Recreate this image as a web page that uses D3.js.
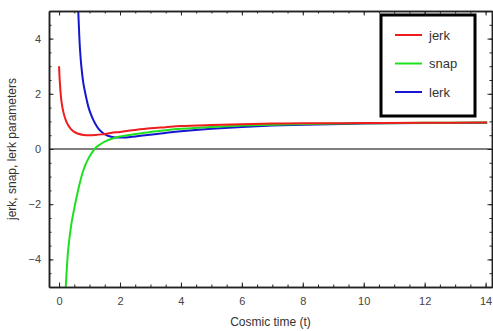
<!DOCTYPE html>
<html>
<head>
<meta charset="utf-8">
<script src="https://cdn.jsdelivr.net/npm/d3@7"></script>
<style>
  body { margin: 0; background: #fff; }
  svg { display: block; font-family: "Liberation Sans", Arial, sans-serif; }
</style>
</head>
<body>
<svg width="493" height="331"></svg>
<script>
// jerk parameter j(t)
const jerkT = [0, 0.03, 0.08, 0.15, 0.22, 0.3, 0.4, 0.5, 0.63, 0.8, 1.0, 1.2, 1.4, 1.7, 2.0, 2.5, 3.0, 3.5, 4, 5, 6, 7, 8, 10, 12, 14.05];
const jerkV = [3.0, 2.35, 1.72, 1.3, 1.05, 0.86, 0.71, 0.62, 0.55, 0.51, 0.5, 0.51, 0.53, 0.58, 0.62, 0.69, 0.75, 0.79, 0.83, 0.87, 0.9, 0.92, 0.93, 0.94, 0.95, 0.96];

// snap parameter s(t)
const snapT = [0.22, 0.26, 0.3, 0.41, 0.5, 0.58, 0.7, 0.8, 0.96, 1.1, 1.18, 1.3, 1.5, 1.73, 2.0, 2.5, 3.0, 3.5, 4, 5, 6, 7, 8, 10, 12, 14.05];
const snapV = [-5.0, -4.24, -3.64, -2.68, -2.15, -1.72, -1.15, -0.76, -0.35, -0.1, 0.02, 0.13, 0.27, 0.37, 0.45, 0.54, 0.62, 0.68, 0.73, 0.8, 0.85, 0.88, 0.91, 0.93, 0.95, 0.96];

// lerk parameter l(t)
const lerkT = [0.6, 0.63, 0.66, 0.69, 0.74, 0.8, 0.88, 0.97, 1.07, 1.18, 1.29, 1.45, 1.6, 1.84, 2.05, 2.28, 2.83, 3.48, 4, 5, 6, 7, 8, 10, 12, 14.05];
const lerkV = [5.7, 5.0, 4.2, 3.57, 2.9, 2.37, 1.92, 1.5, 1.19, 0.93, 0.74, 0.57, 0.48, 0.42, 0.42, 0.43, 0.5, 0.58, 0.64, 0.73, 0.8, 0.85, 0.88, 0.92, 0.94, 0.95];

const seriesNames = ["jerk", "snap", "lerk"];
const seriesColors = ["#ee1c1c", "#1ee01e", "#1616d0"];

const xTicks = [0, 2, 4, 6, 8, 10, 12, 14];
const yTicks = [-4, -2, 0, 2, 4];

const plotL = 49, plotR = 492, plotT = 11, plotB = 287;

const x = d3.scaleLinear().domain([-0.33, 14.21]).range([plotL, plotR]);
const y = d3.scaleLinear().domain([-5, 5]).range([plotB, plotT]);

const svg = d3.select("svg");

svg.append("clipPath").attr("id", "plot")
  .append("rect")
  .attr("x", plotL).attr("y", plotT)
  .attr("width", plotR - plotL).attr("height", plotB - plotT);

// zero line
svg.append("line")
  .attr("x1", plotL).attr("x2", plotR)
  .attr("y1", y(0)).attr("y2", y(0))
  .attr("stroke", "#555").attr("stroke-width", 1.6);

const series = [
  { t: jerkT, v: jerkV },
  { t: snapT, v: snapV },
  { t: lerkT, v: lerkV }
];

const line = d3.line()
  .x(d => x(d[0]))
  .y(d => y(d[1]))
  .curve(d3.curveCatmullRom.alpha(0.5));

const curves = svg.append("g").attr("clip-path", "url(#plot)");
// draw lerk first, then snap, then jerk on top
[2, 1, 0].forEach(i => {
  const s = series[i];
  curves.append("path")
    .datum(d3.zip(s.t, s.v))
    .attr("fill", "none")
    .attr("stroke", seriesColors[i])
    .attr("stroke-width", 2)
    .attr("d", line);
});

// axes with inward ticks
function styleAxis(g) {
  g.select(".domain").attr("stroke", "#222").attr("stroke-width", 1.5);
  g.selectAll(".tick line").attr("stroke", "#222").attr("stroke-width", 1);
  g.selectAll(".tick text").attr("fill", "#444").attr("font-size", 11);
}

const xMinor = d3.range(0, 14.01, 0.5);
const yMinor = d3.range(-4.5, 4.51, 0.5);

svg.append("g").attr("transform", `translate(0,${plotB})`)
  .call(d3.axisBottom(x).tickValues(xMinor).tickSize(-2.5).tickFormat("").tickSizeOuter(0))
  .call(styleAxis);
svg.append("g").attr("transform", `translate(0,${plotB})`)
  .call(d3.axisBottom(x).tickValues(xTicks).tickSize(-4.5).tickPadding(8).tickSizeOuter(0))
  .call(styleAxis)
  .call(g => g.selectAll(".tick text").attr("dy", "0.9em"));

svg.append("g").attr("transform", `translate(0,${plotT})`)
  .call(d3.axisTop(x).tickValues(xMinor).tickSize(-2.5).tickFormat("").tickSizeOuter(0))
  .call(styleAxis);
svg.append("g").attr("transform", `translate(0,${plotT})`)
  .call(d3.axisTop(x).tickValues(xTicks).tickSize(-4.5).tickFormat("").tickSizeOuter(0))
  .call(styleAxis);

svg.append("g").attr("transform", `translate(${plotL},0)`)
  .call(d3.axisLeft(y).tickValues(yMinor).tickSize(-2.5).tickFormat("").tickSizeOuter(0))
  .call(styleAxis);
svg.append("g").attr("transform", `translate(${plotL},0)`)
  .call(d3.axisLeft(y).tickValues(yTicks).tickSize(-4.5).tickPadding(8).tickFormat(d => d < 0 ? "\u2212" + Math.abs(d) : d).tickSizeOuter(0))
  .call(styleAxis);

svg.append("g").attr("transform", `translate(${plotR},0)`)
  .call(d3.axisRight(y).tickValues(yMinor).tickSize(-2.5).tickFormat("").tickSizeOuter(0))
  .call(styleAxis);
svg.append("g").attr("transform", `translate(${plotR},0)`)
  .call(d3.axisRight(y).tickValues(yTicks).tickSize(-4.5).tickFormat("").tickSizeOuter(0))
  .call(styleAxis);

// axis titles
svg.append("text")
  .attr("x", (plotL + plotR) / 2).attr("y", 326)
  .attr("text-anchor", "middle")
  .attr("font-size", 12).attr("fill", "#333")
  .text("Cosmic time (t)");

svg.append("text")
  .attr("transform", `translate(16,${y(0)}) rotate(-90)`)
  .attr("text-anchor", "middle")
  .attr("font-size", 12).attr("fill", "#333")
  .text("jerk, snap, lerk parameters");

// legend
const legend = svg.append("g");
legend.append("rect")
  .attr("x", 381).attr("y", 15)
  .attr("width", 94).attr("height", 101)
  .attr("fill", "#fff").attr("stroke", "#000").attr("stroke-width", 3);

seriesNames.forEach((name, i) => {
  const ly = 35 + i * 28.5;
  legend.append("line")
    .attr("x1", 395).attr("x2", 422)
    .attr("y1", ly).attr("y2", ly)
    .attr("stroke", seriesColors[i]).attr("stroke-width", 2);
  legend.append("text")
    .attr("x", 429).attr("y", ly).attr("dy", "0.35em")
    .attr("font-size", 13).attr("fill", "#333")
    .text(name);
});
</script>
</body>
</html>
